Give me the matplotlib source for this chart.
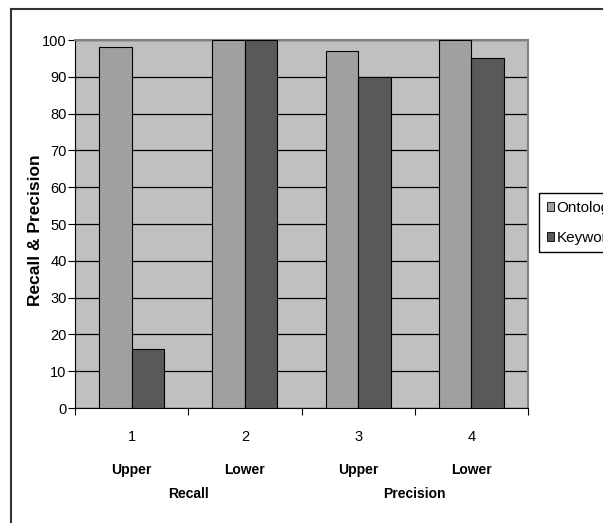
import matplotlib
matplotlib.use("Agg")
import matplotlib.pyplot as plt
import numpy as np
from matplotlib.lines import Line2D
from matplotlib.patches import Patch

plt.rcParams["font.family"] = ["Liberation Sans", "DejaVu Sans"]

# data
categories = ["1", "2", "3", "4"]
sub_labels = ["Upper", "Lower", "Upper", "Lower"]
group_labels = ["Recall", "Precision"]
ontology = [98, 100, 97, 100]
keyword = [16, 100, 90, 95]
series_names = ["Ontology", "Keyword"]

PLOT_BG = "#C0C0C0"
ONT_COLOR = "#A0A0A0"
KEY_COLOR = "#595959"

fig = plt.figure(figsize=(6.03, 5.23), dpi=100)
fig.patch.set_facecolor("white")
ax = fig.add_axes([75 / 603, 1 - 408 / 523, 453 / 603, 368 / 523])
ax.set_facecolor(PLOT_BG)

x = np.arange(len(categories))
w = 0.288
ax.bar(x - w / 2, ontology, w, color=ONT_COLOR, edgecolor="black", linewidth=0.8, zorder=3)
ax.bar(x + w / 2, keyword, w, color=KEY_COLOR, edgecolor="black", linewidth=0.8, zorder=3)

ax.set_xlim(-0.5, len(categories) - 0.5)
ax.set_ylim(0, 100)
ax.set_yticks(range(0, 101, 10))
ax.yaxis.grid(True, color="black", linewidth=0.9, zorder=1)
ax.set_axisbelow(True)

# x ticks sit between the categories, labels at the centres
ax.set_xticks(np.arange(-0.5, len(categories), 1.0))
ax.set_xticklabels([])
ax.tick_params(axis="x", direction="out", length=5, width=0.8, color="black")
ax.tick_params(axis="y", direction="out", length=5, width=0.8, color="black",
               labelsize=10.5, pad=1)

for s in ("top", "right"):
    ax.spines[s].set_color("#808080")
    ax.spines[s].set_linewidth(1.5)
ax.spines["left"].set_color("black")
ax.spines["bottom"].set_color("black")
ax.spines["left"].set_linewidth(0.8)
ax.spines["bottom"].set_linewidth(0.8)

tr = ax.get_xaxis_transform()
for i, c in enumerate(categories):
    ax.text(i, -29 / 368, c, transform=tr, ha="center", va="center", fontsize=10.5)
    ax.text(i, -62 / 368, sub_labels[i], transform=tr, ha="center", va="center",
            fontsize=10, fontweight="bold")
for j, g in enumerate(group_labels):
    ax.text(2 * j + 0.5, -86 / 368, g, transform=tr, ha="center", va="center",
            fontsize=10, fontweight="bold")

ax.set_ylabel("Recall & Precision", fontsize=12.5, fontweight="bold")
ax.yaxis.set_label_coords(-32 / 453, (408 - 230) / 368)

# legend partly cut off by the right edge, as in the original
handles = [Patch(facecolor=ONT_COLOR, edgecolor="black", linewidth=0.6),
           Patch(facecolor=KEY_COLOR, edgecolor="black", linewidth=0.6)]
fig.legend(handles, series_names, loc="upper left",
           bbox_to_anchor=(539 / 603, 1 - 193 / 523), fontsize=11,
           frameon=True, fancybox=False, edgecolor="black", framealpha=1,
           handlelength=0.45, handleheight=0.55, handletextpad=0.2,
           labelspacing=1.05, borderpad=0.5, borderaxespad=0)

# outer frame: only left and top edges are visible
fig.add_artist(Line2D([11 / 603, 11 / 603], [0, 1 - 9 / 523], color="#333333",
                      linewidth=1.5, transform=fig.transFigure))
fig.add_artist(Line2D([11 / 603, 1], [1 - 9 / 523, 1 - 9 / 523], color="#333333",
                      linewidth=1.5, transform=fig.transFigure))

fig.savefig("out.png", dpi=100)
